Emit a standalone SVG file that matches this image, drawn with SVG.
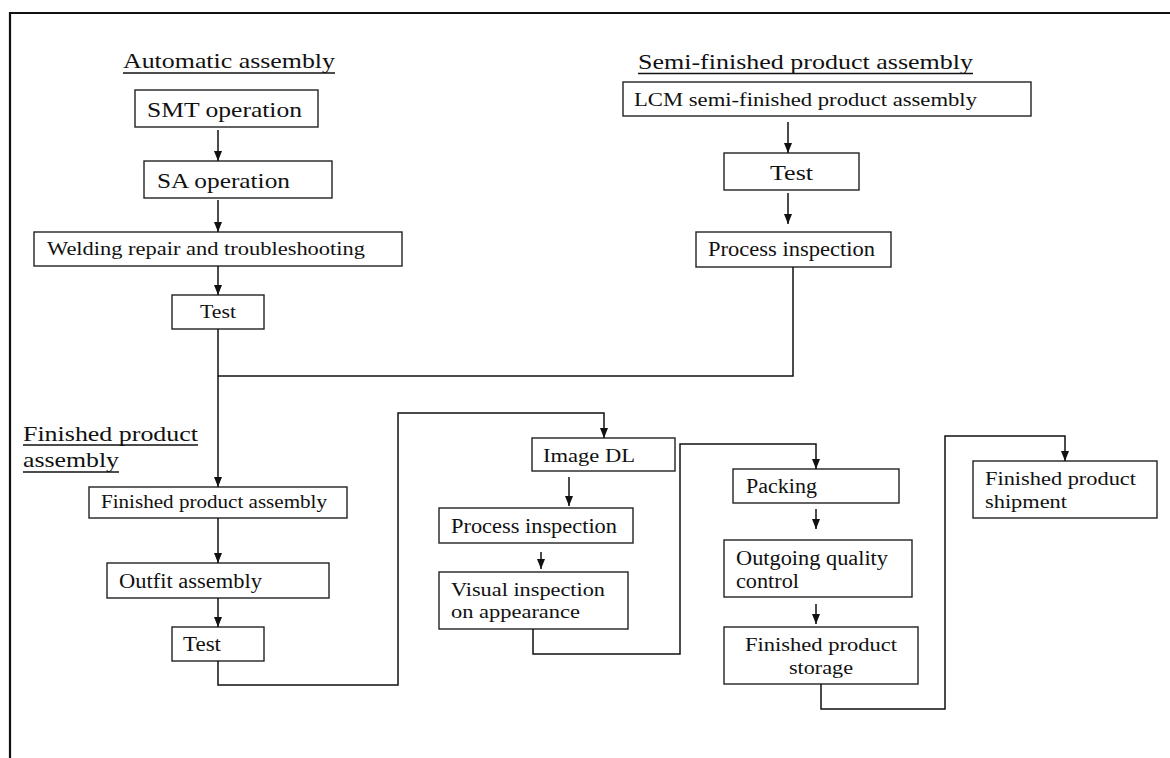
<svg xmlns="http://www.w3.org/2000/svg" width="1170" height="758" viewBox="0 0 1170 758">
<style>
.box{fill:#fff;stroke:#222;stroke-width:1.4}
.t{font-family:"Liberation Serif","Times New Roman",serif;fill:#111}
.c{fill:none;stroke:#111;stroke-width:1.5}
.u{stroke:#111;stroke-width:1.5}
</style>
<defs>
<marker id="ah" markerUnits="userSpaceOnUse" markerWidth="10" markerHeight="8" refX="10" refY="4" orient="auto" viewBox="0 0 10 8">
<path d="M0,0 L10,4 L0,8 z" fill="#111"/>
</marker>
</defs>
<rect width="1170" height="758" fill="#fff"/>
<path d="M10,758 V13 H1170" fill="none" stroke="#111" stroke-width="2.2"/>

<g id="headings">
<text class="t" x="123" y="68" font-size="22" textLength="212" lengthAdjust="spacingAndGlyphs">Automatic assembly</text>
<line class="u" x1="123" y1="73" x2="335" y2="73"/>
<text class="t" x="638" y="69" font-size="22" textLength="335" lengthAdjust="spacingAndGlyphs">Semi-finished product assembly</text>
<line class="u" x1="638" y1="73.5" x2="973" y2="73.5"/>
<text class="t" x="23" y="441" font-size="21" textLength="175" lengthAdjust="spacingAndGlyphs">Finished product</text>
<line class="u" x1="23" y1="445" x2="198" y2="445"/>
<text class="t" x="23" y="467" font-size="21" textLength="96" lengthAdjust="spacingAndGlyphs">assembly</text>
<line class="u" x1="23" y1="472" x2="119" y2="472"/>
</g>

<g id="smt"><rect class="box" x="135" y="90" width="183" height="37"/>
<text class="t" x="147" y="117" font-size="22" textLength="155" lengthAdjust="spacingAndGlyphs">SMT operation</text></g>
<g id="sa"><rect class="box" x="144" y="161" width="188" height="37"/>
<text class="t" x="157" y="188" font-size="22" textLength="133" lengthAdjust="spacingAndGlyphs">SA operation</text></g>
<g id="welding"><rect class="box" x="34" y="232" width="368" height="34"/>
<text class="t" x="47" y="255" font-size="18" textLength="318" lengthAdjust="spacingAndGlyphs">Welding repair and troubleshooting</text></g>
<g id="test1"><rect class="box" x="172" y="295" width="92" height="34"/>
<text class="t" x="200" y="318" font-size="18" textLength="36" lengthAdjust="spacingAndGlyphs">Test</text></g>

<g id="lcm"><rect class="box" x="623" y="82" width="408" height="34"/>
<text class="t" x="634" y="106" font-size="18.5" textLength="343" lengthAdjust="spacingAndGlyphs">LCM semi-finished product assembly</text></g>
<g id="test2"><rect class="box" x="724" y="153" width="135" height="37"/>
<text class="t" x="770" y="180" font-size="22" textLength="43" lengthAdjust="spacingAndGlyphs">Test</text></g>
<g id="proc1"><rect class="box" x="696" y="232" width="195" height="35"/>
<text class="t" x="708" y="256" font-size="20" textLength="167" lengthAdjust="spacingAndGlyphs">Process inspection</text></g>

<g id="fpa"><rect class="box" x="89" y="487" width="258" height="31"/>
<text class="t" x="101" y="508" font-size="18" textLength="226" lengthAdjust="spacingAndGlyphs">Finished product assembly</text></g>
<g id="outfit"><rect class="box" x="107" y="563" width="222" height="35"/>
<text class="t" x="119" y="588" font-size="20" textLength="143" lengthAdjust="spacingAndGlyphs">Outfit assembly</text></g>
<g id="test3"><rect class="box" x="172" y="627" width="92" height="34"/>
<text class="t" x="183" y="651" font-size="20" textLength="38" lengthAdjust="spacingAndGlyphs">Test</text></g>

<g id="imagedl"><rect class="box" x="532" y="438" width="143" height="33"/>
<text class="t" x="543" y="462" font-size="18" textLength="92" lengthAdjust="spacingAndGlyphs">Image DL</text></g>
<g id="proc2"><rect class="box" x="439" y="508" width="194" height="35"/>
<text class="t" x="451" y="533" font-size="20" textLength="166" lengthAdjust="spacingAndGlyphs">Process inspection</text></g>
<g id="visual"><rect class="box" x="439" y="572" width="189" height="57"/>
<text class="t" x="451" y="596" font-size="19" textLength="154" lengthAdjust="spacingAndGlyphs">Visual inspection</text>
<text class="t" x="451" y="618" font-size="19" textLength="129" lengthAdjust="spacingAndGlyphs">on appearance</text></g>

<g id="packing"><rect class="box" x="733" y="469" width="166" height="34"/>
<text class="t" x="746" y="493" font-size="20" textLength="71" lengthAdjust="spacingAndGlyphs">Packing</text></g>
<g id="oqc"><rect class="box" x="724" y="540" width="188" height="57"/>
<text class="t" x="736" y="565" font-size="20" textLength="152" lengthAdjust="spacingAndGlyphs">Outgoing quality</text>
<text class="t" x="736" y="588" font-size="20" textLength="63" lengthAdjust="spacingAndGlyphs">control</text></g>
<g id="storage"><rect class="box" x="724" y="627" width="194" height="57"/>
<text class="t" x="745" y="651" font-size="19" textLength="152" lengthAdjust="spacingAndGlyphs">Finished product</text>
<text class="t" x="789" y="674" font-size="19" textLength="64" lengthAdjust="spacingAndGlyphs">storage</text></g>
<g id="shipment"><rect class="box" x="973" y="461" width="184" height="57"/>
<text class="t" x="985" y="485" font-size="19" textLength="151" lengthAdjust="spacingAndGlyphs">Finished product</text>
<text class="t" x="985" y="508" font-size="19" textLength="82" lengthAdjust="spacingAndGlyphs">shipment</text></g>

<g id="connectors">
<path class="c" d="M218,130 V161" marker-end="url(#ah)"/>
<path class="c" d="M218,200 V232" marker-end="url(#ah)"/>
<path class="c" d="M218,266 V295" marker-end="url(#ah)"/>
<path class="c" d="M788,122 V153" marker-end="url(#ah)"/>
<path class="c" d="M788,193 V224" marker-end="url(#ah)"/>
<path class="c" d="M793,267 V376 H218"/>
<path class="c" d="M218,329 V487" marker-end="url(#ah)"/>
<path class="c" d="M218,518 V563" marker-end="url(#ah)"/>
<path class="c" d="M218,598 V627" marker-end="url(#ah)"/>
<path class="c" d="M218,661 V685 H398 V413 H604 V438" marker-end="url(#ah)"/>
<path class="c" d="M569,477 V506" marker-end="url(#ah)"/>
<path class="c" d="M541,552 V569" marker-end="url(#ah)"/>
<path class="c" d="M533,629 V654 H680 V444 H816 V469" marker-end="url(#ah)"/>
<path class="c" d="M816,509 V529" marker-end="url(#ah)"/>
<path class="c" d="M816,604 V624" marker-end="url(#ah)"/>
<path class="c" d="M821,684 V709 H945 V436 H1065 V461" marker-end="url(#ah)"/>
</g>
</svg>
